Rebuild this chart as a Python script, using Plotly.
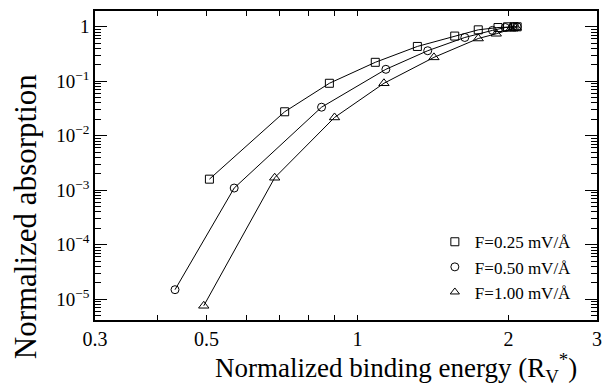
import plotly.graph_objects as go

# Series F=0.25 mV/Å (squares)
sq_x = [0.507, 0.716, 0.879, 1.085, 1.316, 1.562, 1.74, 1.905, 1.99, 2.05, 2.08]
sq_y = [1.6e-3, 0.0276, 0.092, 0.223, 0.436, 0.676, 0.88, 0.97, 1.0, 1.0, 1.0]
# Series F=0.50 mV/Å (circles)
ci_x = [0.433, 0.568, 0.848, 1.139, 1.38, 1.636, 1.857, 1.97, 2.04, 2.08]
ci_y = [1.5e-5, 1.1e-3, 0.0335, 0.166, 0.364, 0.637, 0.86, 0.97, 1.0, 1.0]
# Series F=1.00 mV/Å (triangles)
tr_x = [0.494, 0.684, 0.90, 1.129, 1.42, 1.74, 1.89, 2.02, 2.07]
tr_y = [7.6e-6, 1.7e-3, 0.0217, 0.092, 0.275, 0.61, 0.745, 0.92, 0.97]

labels = ["F=0.25 mV/Å", "F=0.50 mV/Å", "F=1.00 mV/Å"]
symbols = ["square-open", "circle-open", "triangle-up-open"]

x_tickvals = [0.3, 0.5, 1, 2, 3]
x_ticktext = ["0.3", "0.5", "1", "2", "3"]
x_minor = [0.4, 0.6, 0.7, 0.8, 0.9]
y_tickvals = [1, 1e-1, 1e-2, 1e-3, 1e-4, 1e-5]
y_ticktext = ["1", "10<sup>−1</sup>", "10<sup>−2</sup>", "10<sup>−3</sup>",
              "10<sup>−4</sup>", "10<sup>−5</sup>"]
y_minor = [m * 10.0 ** e for e in range(-6, 1) for m in range(2, 10)]

FONT = "'Liberation Serif', 'Times New Roman', serif"
fig = go.Figure()
series = [(sq_x, sq_y), (ci_x, ci_y), (tr_x, tr_y)]
sizes = [8, 8, 9]
for (xs, ys), sym, sz in zip(series, symbols, sizes):
    fig.add_trace(go.Scatter(x=xs, y=ys, mode="lines+markers",
                             line=dict(color="black", width=1),
                             marker=dict(symbol=sym, size=sz, color="black",
                                         line=dict(width=1, color="black")),
                             showlegend=False))
for lab, sym in zip(labels, symbols):
    fig.add_trace(go.Scatter(x=[None], y=[None], mode="markers", name=lab,
                             marker=dict(symbol=sym, size=8, color="black",
                                         line=dict(width=1, color="black"))))

fig.update_layout(
    width=611, height=389,
    margin=dict(l=95, r=14, t=9, b=69),
    paper_bgcolor="white", plot_bgcolor="white",
    font=dict(family=FONT, color="black"),
    showlegend=True,
    legend=dict(x=0.677, y=0.31, xanchor="left", yanchor="top",
                bgcolor="rgba(0,0,0,0)", font=dict(size=17, family=FONT),
                tracegroupgap=0),
    xaxis=dict(type="log", range=[-0.5229, 0.4771],
               tickvals=x_tickvals, ticktext=x_ticktext,
               ticks="inside", ticklen=5, tickwidth=1, tickcolor="black",
               minor=dict(tickvals=x_minor, ticks="inside", ticklen=5,
                          tickwidth=1, tickcolor="black"),
               showline=True, linecolor="black", linewidth=1.5, mirror="ticks",
               showgrid=False, zeroline=False,
               tickfont=dict(size=20, family=FONT)),
    xaxis2=dict(type="log", range=[-0.5229, 0.4771], overlaying="x",
                anchor="y", tickvals=[1], showticklabels=False,
                ticks="inside", ticklen=11, tickwidth=1, tickcolor="black",
                showline=True, linecolor="black", linewidth=1.5, mirror="ticks",
                showgrid=False, zeroline=False),
    yaxis=dict(type="log", range=[-5.38, 0.29],
               tickvals=y_tickvals, ticktext=y_ticktext,
               ticks="inside", ticklen=12, tickwidth=1, tickcolor="black",
               minor=dict(tickvals=y_minor, ticks="inside", ticklen=6,
                          tickwidth=1, tickcolor="black"),
               showline=True, linecolor="black", linewidth=1.5, mirror="ticks",
               showgrid=False, zeroline=False,
               tickfont=dict(size=19, family=FONT)),
)

fig.add_annotation(text="Normalized binding energy (R<sub>V</sub><sup>*</sup>)",
                   xref="paper", yref="paper", x=0.6, y=-0.155,
                   xanchor="center", yanchor="middle", showarrow=False,
                   font=dict(size=27, family=FONT))
fig.add_annotation(text="Normalized absorption",
                   xref="paper", yref="paper", x=-0.138, y=0.335,
                   xanchor="center", yanchor="middle", showarrow=False,
                   textangle=-90, font=dict(size=31, family=FONT))

fig.write_html("out.html", config={"displayModeBar": False},
               post_script="document.body.style.margin='0';document.body.style.overflow='hidden';")
